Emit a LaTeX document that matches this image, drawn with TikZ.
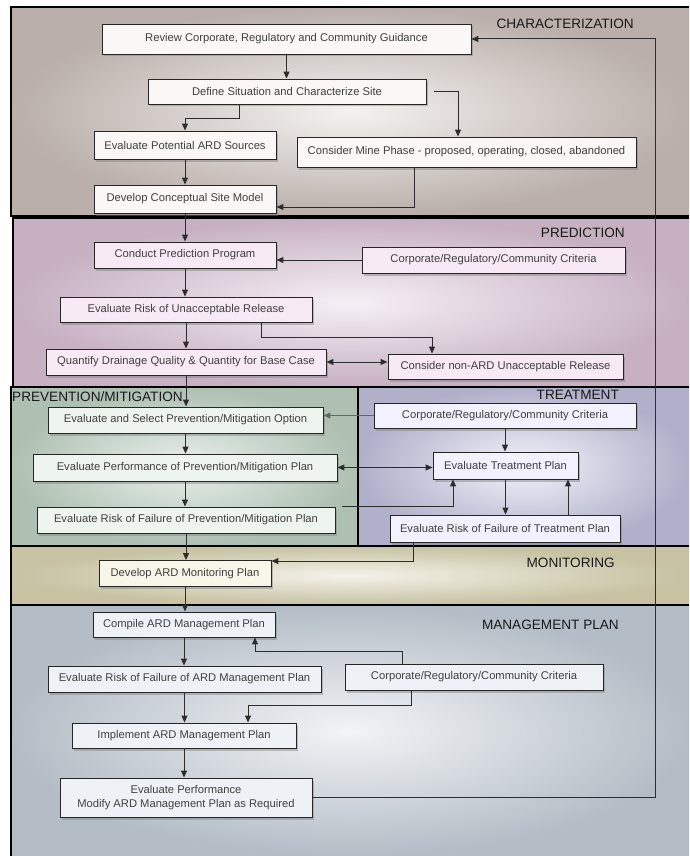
\documentclass[tikz,border=0pt]{standalone}
\usepackage{fontspec}
\setmainfont{Liberation Sans}
\usetikzlibrary{arrows.meta,shadows,calc}
\definecolor{chO}{RGB}{186,175,170}
\definecolor{chI}{RGB}{244,242,240}
\definecolor{prO}{RGB}{198,176,194}
\definecolor{prI}{RGB}{246,240,246}
\definecolor{pvO}{RGB}{174,192,178}
\definecolor{pvI}{RGB}{234,240,234}
\definecolor{trO}{RGB}{176,176,202}
\definecolor{trI}{RGB}{242,242,250}
\definecolor{moO}{RGB}{198,194,162}
\definecolor{moI}{RGB}{244,242,234}
\definecolor{mgO}{RGB}{180,189,198}
\definecolor{mgI}{RGB}{242,244,246}
\definecolor{chB}{RGB}{250,247,246}
\definecolor{prB}{RGB}{247,234,245}
\definecolor{pvB}{RGB}{238,245,238}
\definecolor{trB}{RGB}{243,241,253}
\definecolor{moB}{RGB}{248,246,232}
\definecolor{mgB}{RGB}{238,242,246}
\definecolor{lineC}{RGB}{45,45,45}
\tikzset{
  panel/.style={draw=black, line width=1.3pt},
  stepbox/.style={draw=black!85, line width=0.9pt, align=center, inner sep=2pt,
    font=\fontsize{11.2}{14}\selectfont, text=black!75,
    drop shadow={opacity=0.45, shadow xshift=2pt, shadow yshift=-2.5pt}},
  seclabel/.style={font=\fontsize{13.6}{16}\selectfont, text=black!90, inner sep=0pt},
  arr/.style={draw=lineC, line width=1pt, -{Triangle[length=7pt,width=6pt]}},
  darr/.style={draw=lineC, line width=1pt, {Triangle[length=7pt,width=6pt]}-{Triangle[length=7pt,width=6pt]}},
  ln/.style={draw=lineC, line width=1pt}
}
\begin{document}
\begin{tikzpicture}[x=1pt,y=-1pt]
\useasboundingbox (0,0) rectangle (689,856);
\fill[white] (0,0) rectangle (689,856);
% panels
\shade[inner color=chI, outer color=chO] (11,7) rectangle (689,216);
\draw[panel] (689,7) -- (11,7) -- (11,216) -- (689,216);
\shade[inner color=prI, outer color=prO] (13,218) rectangle (689,387);
\draw[panel] (689,218) -- (13,218) -- (13,387) -- (689,387);
\shade[inner color=pvI, outer color=pvO] (11,387) rectangle (358,546);
\draw[panel] (11,387) rectangle (358,546);
\shade[inner color=trI, outer color=trO] (358,387) rectangle (689,546);
\draw[panel] (689,387) -- (358,387) -- (358,546) -- (689,546);
\shade[inner color=moI, outer color=moO] (11,546) rectangle (689,605);
\draw[panel] (689,546) -- (11,546) -- (11,605) -- (689,605);
\shade[inner color=mgI, outer color=mgO] (11,605) rectangle (689,856);
\draw[panel] (689,605) -- (11,605) -- (11,856);
% section labels
\node[seclabel, anchor=east] (lch) at (634,24) {CHARACTERIZATION};
\node[seclabel, anchor=east] (lpr) at (625,233) {PREDICTION};
\node[seclabel, anchor=west] (lpv) at (12,397) {PREVENTION/MITIGATION};
\node[seclabel, anchor=east] (ltr) at (619,395) {TREATMENT};
\node[seclabel, anchor=east] (lmo) at (615,563) {MONITORING};
\node[seclabel, anchor=east] (lmg) at (619,625) {MANAGEMENT PLAN};
% boxes - characterization
\node[stepbox, fill=chB, minimum width=369, minimum height=30] (review) at (286.5,39) {Review Corporate, Regulatory and Community Guidance};
\node[stepbox, fill=chB, minimum width=278, minimum height=25] (define) at (287,91.5) {Define Situation and Characterize Site};
\node[stepbox, fill=chB, minimum width=182, minimum height=28] (evalsrc) at (185,145) {Evaluate Potential ARD Sources};
\node[stepbox, fill=chB, minimum width=339, minimum height=30] (mine) at (466.5,152) {Consider Mine Phase - proposed, operating, closed, abandoned};
\node[stepbox, fill=chB, minimum width=182, minimum height=28] (develop) at (185,199) {Develop Conceptual Site Model};
% prediction
\node[stepbox, fill=prB, minimum width=182, minimum height=26] (conduct) at (185,255) {Conduct Prediction Program};
\node[stepbox, fill=prB, minimum width=263, minimum height=26] (crit1) at (493.5,260) {Corporate/Regulatory/Community Criteria};
\node[stepbox, fill=prB, minimum width=252, minimum height=25] (evalrisk) at (186,309.5) {Evaluate Risk of Unacceptable Release};
\node[stepbox, fill=prB, minimum width=280, minimum height=26] (quantify) at (186,362) {Quantify Drainage Quality \& Quantity for Base Case};
\node[stepbox, fill=prB, minimum width=235, minimum height=25] (nonard) at (505.5,366.5) {Consider non-ARD Unacceptable Release};
% prevention / treatment
\node[stepbox, fill=pvB, minimum width=275, minimum height=26] (select) at (185.5,420) {Evaluate and Select Prevention/Mitigation Option};
\node[stepbox, fill=trB, minimum width=262, minimum height=25] (crit2) at (505,415.5) {Corporate/Regulatory/Community Criteria};
\node[stepbox, fill=trB, minimum width=145, minimum height=27] (treat) at (505.5,465.5) {Evaluate Treatment Plan};
\node[stepbox, fill=pvB, minimum width=304, minimum height=27] (perf) at (185,467.5) {Evaluate Performance of Prevention/Mitigation Plan};
\node[stepbox, fill=pvB, minimum width=298, minimum height=26] (riskpm) at (186,520) {Evaluate Risk of Failure of Prevention/Mitigation Plan};
\node[stepbox, fill=trB, minimum width=230, minimum height=27] (risktreat) at (505,528.5) {Evaluate Risk of Failure of Treatment Plan};
% monitoring
\node[stepbox, fill=moB, minimum width=172, minimum height=26] (monitor) at (185,573.5) {Develop ARD Monitoring Plan};
% management
\node[stepbox, fill=mgB, minimum width=182, minimum height=25] (compile) at (184,624.5) {Compile ARD Management Plan};
\node[stepbox, fill=mgB, minimum width=273, minimum height=26] (riskard) at (184.5,679) {Evaluate Risk of Failure of ARD Management Plan};
\node[stepbox, fill=mgB, minimum width=258, minimum height=26] (crit3) at (474,677) {Corporate/Regulatory/Community Criteria};
\node[stepbox, fill=mgB, minimum width=224, minimum height=25] (implement) at (184,735.5) {Implement ARD Management Plan};
\node[stepbox, fill=mgB, minimum width=252, minimum height=39] (evalperf) at (186,797.5) {Evaluate Performance\\Modify ARD Management Plan as Required};
% connectors
\coordinate (fb) at (655,0);
\draw[arr] (evalperf.east) -| (fb |- review.east) -- (review.east);
\draw[arr] (review.south) -- (review.south |- define.north);
\draw[arr] ([xshift=-48pt]define.south) |- ($(evalsrc.north)+(0,-12)$) -- (evalsrc.north);
\draw[arr] ([xshift=8pt]define.east) -| ([xshift=-8.5pt]mine.north);
\draw[arr] (evalsrc.south) -- (develop.north);
\draw[arr] ([xshift=-52pt]mine.south) |- ([yshift=-8pt]develop.east);
\draw[arr] (develop.south) -- (conduct.north);
\draw[arr] (crit1.west) -- (crit1.west -| conduct.east);
\draw[arr] (conduct.south) -- (evalrisk.north -| conduct.south);
\draw[arr] ([xshift=75pt]evalrisk.south) |- ($(nonard.north)+(-73.5,-16)$) -- ([xshift=-73.5pt]nonard.north);
\draw[arr] (evalrisk.south) -- (quantify.north);
\draw[darr] (quantify.east) -- (quantify.east -| nonard.west);
\draw[arr] (quantify.south) -- (select.north -| quantify.south);
\draw[arr, draw=black!60] (crit2.west) -- (crit2.west -| select.east);
\draw[arr] (crit2.south) -- (crit2.south |- treat.north);
\draw[arr] (select.south) -- (select.south |- perf.north);
\draw[darr] (perf.east) -- (perf.east -| treat.west);
\draw[arr] (perf.south) -- (perf.south |- riskpm.north);
\coordinate (rpmstart) at ($(riskpm.north east)+(7,0)$);
\draw[arr] (rpmstart) -| ([xshift=-52.5pt]treat.south);
\draw[arr] (treat.south) -- (treat.south |- risktreat.north);
\draw[arr] ([xshift=63pt]risktreat.north) -- ([xshift=63pt]risktreat.north |- treat.south);
\draw[arr] ([xshift=-92pt]risktreat.south) |- ([yshift=-1pt]monitor.north east);
\draw[arr] (riskpm.south) -- (riskpm.south |- monitor.north);
\draw[arr] (monitor.south) -- (monitor.south |- compile.north);
\draw[arr] (compile.south) -- (compile.south |- riskard.north);
\draw[arr] ([xshift=-72pt]crit3.north) |- ($(compile.south)+(71,14)$) -- ([xshift=71pt]compile.south);
\draw[arr] ([xshift=-63pt]crit3.south) |- ($(implement.north)+(64,-17)$) -- ([xshift=64pt]implement.north);
\draw[arr] (riskard.south) -- (riskard.south |- implement.north);
\draw[arr] (implement.south) -- (implement.south |- evalperf.north);
\end{tikzpicture}
\end{document}
